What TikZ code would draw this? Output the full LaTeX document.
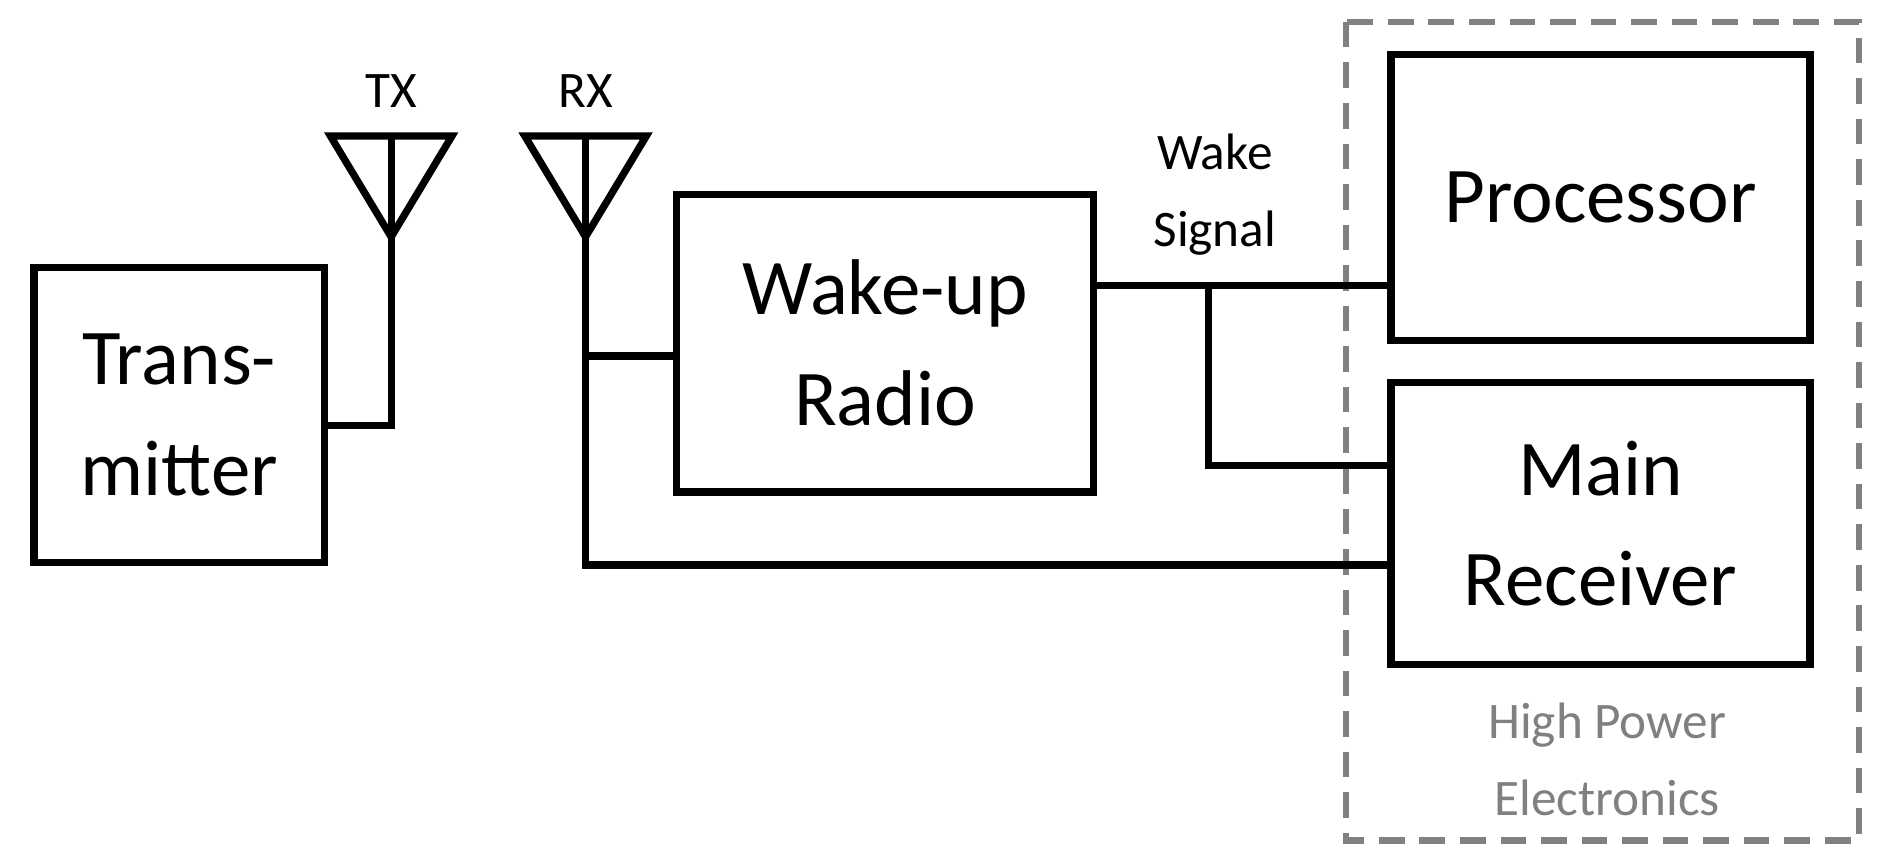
\documentclass[tikz,border=0pt]{standalone}
\usepackage{fontspec}
\setmainfont{Carlito}
\begin{document}
\begin{tikzpicture}[x=0.02cm,y=-0.02cm,
 line width=3.4pt,
 box/.style={draw,rectangle,minimum width=#1,inner sep=0pt,align=center,font=\fontsize{37}{52}\selectfont},
 lbl/.style={align=center,font=\fontsize{24}{36}\selectfont},
 ant/.style={line join=miter}]
\useasboundingbox (0,0) rectangle (1550,710);
\node[box,minimum width=4.78cm,minimum height=4.86cm] (tx) at (147.5,341.5) {Trans-\\mitter};
\node[box,minimum width=6.86cm,minimum height=4.9cm] (wur) at (728.5,282.5) {Wake-up\\Radio};
\node[box,minimum width=6.9cm,minimum height=4.7cm] (proc) at (1317.5,162.5) {Processor};
\node[box,minimum width=6.9cm,minimum height=4.64cm] (mr) at (1317.5,431) {Main\\Receiver};
\draw[gray,dashed,dash pattern=on 12pt off 7pt,line width=3pt] (1108,18) rectangle (1530,692);
\node[lbl,text=gray] (hpe) at (1323,625) {High Power\\Electronics};
\node[lbl] (ws) at (1000,160) {Wake\\Signal};
% TX antenna
\coordinate (txb) at (322,350);
\draw[ant] (272,112) -- (372,112) -- (322,195) -- cycle;
\draw (322,112) -- (txb) -- (tx.east |- txb);
\node[lbl] (txl) at (322,75) {TX};
% RX antenna
\coordinate (rxb) at (482,465);
\coordinate (rxm) at (482,293);
\draw[ant] (432,112) -- (532,112) -- (482,195) -- cycle;
\draw (482,112) -- (rxb) -- (mr.west |- rxb);
\draw (rxm) -- (wur.west |- rxm);
\node[lbl] (rxl) at (482,75) {RX};
% wake signal
\coordinate (w1) at (900,235);
\coordinate (br) at (995,235);
\coordinate (br2) at (995,383);
\draw (wur.east |- w1) -- (proc.west |- w1);
\draw (br) -- (br2) -- (mr.west |- br2);
\end{tikzpicture}
\end{document}
